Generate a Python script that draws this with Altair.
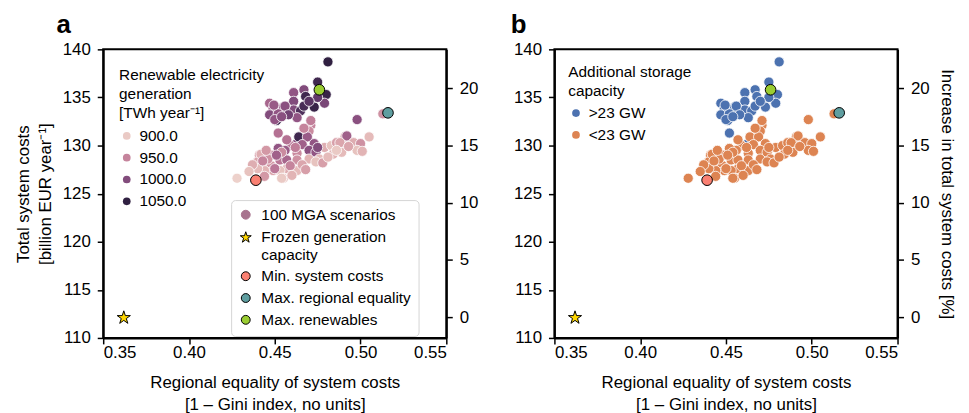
import altair as alt
import pandas as pd

FONT = "Liberation Sans"

# ---- MGA scenario data ----
equality = [
    0.481, 0.475, 0.480, 0.467, 0.468, 0.461, 0.461, 0.455, 0.447, 0.449,
    0.447, 0.452, 0.451, 0.461, 0.465, 0.463, 0.467, 0.473, 0.479, 0.475,
    0.452, 0.462, 0.4495, 0.456, 0.450, 0.458, 0.470, 0.454,
    0.471, 0.471, 0.470, 0.464, 0.469, 0.473, 0.466, 0.470, 0.463, 0.459,
    0.456, 0.452, 0.448, 0.441, 0.440, 0.444, 0.448, 0.453, 0.457, 0.463,
    0.470, 0.474, 0.476, 0.479, 0.483, 0.486, 0.490, 0.491, 0.495,
    0.489, 0.484, 0.474, 0.463, 0.457, 0.453, 0.449, 0.444, 0.455, 0.428,
    0.498, 0.492, 0.496, 0.500, 0.505, 0.498, 0.513,
    0.488, 0.478, 0.454, 0.442, 0.440, 0.444, 0.450, 0.454,
    0.446, 0.451, 0.459, 0.466, 0.462, 0.468, 0.443, 0.457, 0.437,
    0.475, 0.467, 0.445, 0.481, 0.460, 0.435, 0.501, 0.493, 0.486,
]
costs = [
    138.7, 136.6, 135.3, 135.8, 135.1, 135.5, 134.6, 134.0, 134.4, 133.8,
    133.2, 133.3, 132.6, 133.7, 133.6, 132.9, 134.1, 134.0, 134.4, 135.0,
    131.3, 130.1, 134.2, 134.1, 132.7, 133.2, 134.6, 133.0,
    132.1, 132.6, 131.5, 130.9, 130.9, 130.2, 130.1, 129.5, 129.2, 130.0,
    129.5, 129.7, 129.0, 129.0, 128.3, 128.0, 127.9, 128.5, 128.5, 128.5,
    128.6, 129.3, 128.6, 129.8, 130.0, 130.3, 130.2, 130.9, 130.3,
    129.3, 129.1, 128.3, 127.4, 127.6, 127.4, 127.4, 127.4, 126.6, 126.6,
    132.7, 131.0, 130.3, 130.2, 130.9, 129.5, 133.3,
    130.3, 128.2, 129.3, 129.1, 127.6, 126.8, 127.6, 126.6,
    128.6, 129.0, 127.9, 128.0, 129.8, 127.5, 128.4, 130.6, 128.0,
    129.8, 131.8, 129.5, 128.8, 126.9, 127.3, 129.4, 129.9, 129.5,
]
renewables = [
    1050, 1040, 1045, 1000, 1040, 990, 1000, 990, 975, 985,
    1000, 990, 1040, 1000, 1030, 990, 1035, 1045, 1005, 1020,
    965, 995, 985, 995, 990, 1010, 1025, 995,
    950, 955, 945, 1040, 985, 990, 980, 995, 945, 960,
    985, 990, 950, 930, 925, 945, 935, 960, 975, 940,
    915, 990, 910, 920, 905, 930, 920, 935, 945,
    910, 915, 905, 910, 920, 905, 925, 915, 910, 895,
    995, 980, 920, 940, 910, 905, 940,
    925, 930, 945, 920, 910, 935, 960, 900,
    940, 980, 950, 925, 955, 930, 950, 965, 920,
    1000, 950, 935, 910, 915, 905, 915, 925, 900,
]
storage = [">23 GW"] * 28 + ["<23 GW"] * 72

# ---- highlighted scenarios ----
special_labels = ["Frozen generation capacity", "Min. system costs",
                  "Max. regional equality", "Max. renewables"]
special_equality = [0.362, 0.439, 0.516, 0.476]
special_costs = [112.1, 126.4, 133.4, 135.8]

legend_labels = ["100 MGA scenarios"] + special_labels
legend_fill = ["#A8738E", "#FFD700", "#FA8072", "#5F9EA0", "#9ACD32"]
legend_stroke = ["#A8738E", "black", "black", "black", "black"]
STAR = ("M0,-1.3L0.292,-0.402L1.236,-0.402L0.472,0.153L0.764,1.052L0,0.497"
        "L-0.764,1.052L-0.472,0.153L-1.236,-0.402L-0.292,-0.402Z")
legend_shapes = ["circle", STAR, "circle", "circle", "circle"]

# ---- axes ----
x_ticks = [0.35, 0.40, 0.45, 0.50, 0.55]
cost_ticks = [110, 115, 120, 125, 130, 135, 140]
pct_ticks = [0, 5, 10, 15, 20]
pct_domain = [-1.82, 23.38]

ren_domain = [895, 926.4, 957.8, 989.2, 1020.6, 1052]
ren_colors = ["#EDD1CB", "#DAA4AC", "#BD7A98", "#935685", "#613969", "#2D1E3E"]
ren_legend_values = [900, 950, 1000, 1050]

storage_domain = [">23 GW", "<23 GW"]
storage_colors = ["#4C72B0", "#DD8452"]

mga = pd.DataFrame({"equality": equality, "cost": costs,
                    "renewables": renewables, "storage": storage})
spec = pd.DataFrame({"equality": special_equality, "cost": special_costs,
                     "label": special_labels})
pct_df = pd.DataFrame({"pct": pct_ticks})

W, H = 346, 291
Y_TITLE_A = ["Total system costs", "[billion EUR year⁻¹]"]


def x_enc():
    return alt.X("equality:Q",
                 scale=alt.Scale(domain=[0.35, 0.55], nice=False, zero=False),
                 axis=alt.Axis(values=x_ticks, format=".2f",
                               title=["Regional equality of system costs",
                                      "[1 – Gini index, no units]"],
                               labelPadding=1, titlePadding=14,
                               titleLineHeight=22))


def y_enc(title):
    if title is not None:
        ax = alt.Axis(values=cost_ticks, format="d", title=title,
                      titlePadding=8, titleLineHeight=22)
    else:
        ax = alt.Axis(values=cost_ticks, format="d", title=None)
    return alt.Y("cost:Q", scale=alt.Scale(domain=[110, 140], nice=False, zero=False),
                 axis=ax)


def pct_layer(title):
    if title is None:
        ax = alt.Axis(orient="right", values=pct_ticks, title=None)
    else:
        ax = alt.Axis(orient="right", values=pct_ticks, title=title, titlePadding=8)
    return alt.Chart(pct_df).mark_point(opacity=0).encode(
        y=alt.Y("pct:Q", scale=alt.Scale(domain=pct_domain, nice=False, zero=False),
                axis=ax))


def special_layer(with_legend, ytitle):
    if with_legend:
        leg = alt.Legend(title=None, orient="none", legendX=129, legendY=152,
                         padding=7, strokeColor="#d4d4d4", cornerRadius=4,
                         fillColor="white", symbolSize=80, symbolStrokeWidth=1,
                         rowPadding=5, labelOffset=8,
                         labelExpr="datum.label == 'Frozen generation capacity' ? ['Frozen generation', 'capacity'] : datum.label")
    else:
        leg = None
    return alt.Chart(spec).mark_point(filled=True, size=115, strokeWidth=1,
                                      opacity=1).encode(
        x=x_enc(), y=y_enc(ytitle),
        fill=alt.Fill("label:N", scale=alt.Scale(domain=legend_labels, range=legend_fill), legend=leg),
        stroke=alt.Stroke("label:N", scale=alt.Scale(domain=legend_labels, range=legend_stroke), legend=leg),
        shape=alt.Shape("label:N", scale=alt.Scale(domain=legend_labels, range=legend_shapes), legend=leg),
    )


# ---- panel a ----
mga_a = alt.Chart(mga).mark_circle(size=105, opacity=1, stroke="white",
                                   strokeWidth=0.8).encode(
    x=x_enc(),
    y=y_enc(Y_TITLE_A),
    color=alt.Color("renewables:Q",
                    scale=alt.Scale(domain=ren_domain, range=ren_colors),
                    legend=alt.Legend(type="symbol", values=ren_legend_values,
                                      format=".1f",
                                      title=["Renewable electricity", "generation",
                                             "[TWh year⁻¹]"],
                                      orient="none", legendX=16, legendY=19,
                                      symbolType="circle", symbolSize=60,
                                      symbolStrokeWidth=0, rowPadding=5,
                                      titlePadding=7, titleLineHeight=19,
                                      labelOffset=5)),
)
panel_a = alt.layer(alt.layer(mga_a, special_layer(True, Y_TITLE_A)),
                    pct_layer(None)).resolve_scale(y="independent").properties(
    width=W, height=H,
    title=alt.TitleParams("a", anchor="start", frame="group", dx=-47,
                          fontSize=26, fontWeight="bold", font=FONT, offset=2))

# ---- panel b ----
mga_b = alt.Chart(mga).mark_circle(size=105, opacity=1, stroke="white",
                                   strokeWidth=0.8).encode(
    x=x_enc(),
    y=y_enc(None),
    color=alt.Color("storage:N",
                    scale=alt.Scale(domain=storage_domain, range=storage_colors),
                    legend=alt.Legend(title=["Additional storage", "capacity"],
                                      orient="none", legendX=14, legendY=16,
                                      symbolType="circle", symbolSize=60,
                                      symbolStrokeWidth=0, rowPadding=5,
                                      titlePadding=6, titleLineHeight=19,
                                      labelOffset=5)),
)
panel_b = alt.layer(alt.layer(mga_b, special_layer(False, None)),
                    pct_layer("Increase in total system costs [%]")).resolve_scale(
    y="independent").properties(
    width=W, height=H,
    title=alt.TitleParams("b", anchor="start", frame="group", dx=-44,
                          fontSize=26, fontWeight="bold", font=FONT, offset=2))

chart = alt.hconcat(panel_a, panel_b, spacing=31,
                    padding={"left": 5, "top": 2, "right": 5, "bottom": 0}
                    ).resolve_scale(
    color="independent", fill="independent", stroke="independent",
    shape="independent").configure_axis(
    labelFont=FONT, titleFont=FONT, labelFontSize=17, titleFontSize=17,
    labelColor="black", titleColor="black", tickColor="black",
    domainColor="black", domainWidth=2, tickWidth=1.5, tickSize=6,
    grid=False, titleFontWeight="normal", labelPadding=7,
).configure_view(stroke="black", strokeWidth=2).configure_legend(
    labelFont=FONT, titleFont=FONT, labelFontSize=15.5, titleFontSize=15.5,
    titleFontWeight="normal", labelColor="black", titleColor="black",
).configure_title(color="black")

chart.save("out.html", embed_options={"renderer": "svg", "actions": False})
